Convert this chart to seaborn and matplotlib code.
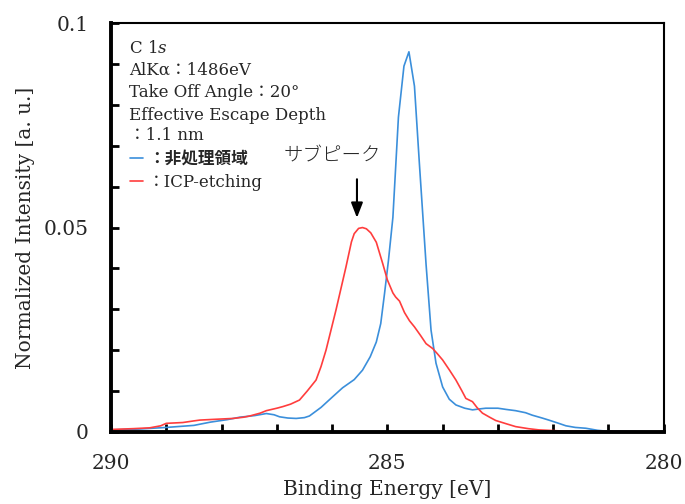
import numpy as np
import pandas as pd
import matplotlib
matplotlib.use("Agg")
import matplotlib.pyplot as plt
import seaborn as sns
from matplotlib.ticker import MultipleLocator, FuncFormatter

# ---------------------------
# Data
# ---------------------------
blue_energy = [290.0, 289.5, 289.0, 288.7, 288.5, 288.2, 287.9, 287.67, 287.4, 287.19,
               287.05, 286.95, 286.8, 286.65, 286.5, 286.41, 286.2, 285.99, 285.81, 285.6,
               285.45, 285.31, 285.2, 285.12, 285.05, 284.98, 284.9, 284.8, 284.7, 284.61,
               284.51, 284.42, 284.3, 284.21, 284.12, 284.0, 283.88, 283.76, 283.6, 283.46,
               283.35, 283.22, 283.0, 282.85, 282.68, 282.5, 282.38, 282.2, 282.08, 281.9,
               281.77, 281.6, 281.41, 281.2, 281.05, 280.5, 280.0]
blue_intensity = [0.0005, 0.0007, 0.0011, 0.0014, 0.0016, 0.0024, 0.0030, 0.0036, 0.0040, 0.0045,
                  0.0042, 0.0037, 0.0034, 0.0033, 0.0035, 0.0039, 0.0060, 0.0086, 0.0108, 0.0128,
                  0.0151, 0.0184, 0.0220, 0.0265, 0.0340, 0.0420, 0.0525, 0.0770, 0.0895, 0.0930,
                  0.0846, 0.0655, 0.0410, 0.0249, 0.0168, 0.0110, 0.0080, 0.0066, 0.0058, 0.0054,
                  0.0056, 0.0058, 0.0058, 0.0055, 0.0052, 0.0047, 0.0041, 0.0034, 0.0029, 0.0021,
                  0.0015, 0.0011, 0.0009, 0.0004, 0.0002, 0.0001, 0.0000]

red_energy = [290.0, 289.6, 289.3, 289.1, 289.0, 288.85, 288.7, 288.5, 288.39, 288.1,
              287.79, 287.6, 287.49, 287.3, 287.19, 287.0, 286.89, 286.75, 286.59, 286.45,
              286.29, 286.2, 286.11, 285.93, 285.75, 285.65, 285.6, 285.52, 285.45, 285.38,
              285.3, 285.2, 285.08, 285.0, 284.9, 284.85, 284.78, 284.69, 284.6, 284.51,
              284.4, 284.3, 284.18, 284.1, 284.0, 283.88, 283.76, 283.65, 283.58, 283.46,
              283.38, 283.28, 283.15, 283.04, 282.85, 282.68, 282.45, 282.26, 281.8, 281.0, 280.0]
red_intensity = [0.0006, 0.0008, 0.0010, 0.0015, 0.0021, 0.0022, 0.0023, 0.0027, 0.0029, 0.0031,
                 0.0033, 0.0036, 0.0039, 0.0046, 0.0052, 0.0058, 0.0062, 0.0068, 0.0078, 0.0100,
                 0.0127, 0.0160, 0.0200, 0.0298, 0.0403, 0.0465, 0.0485, 0.0498, 0.0500, 0.0497,
                 0.0487, 0.0464, 0.0410, 0.0372, 0.0340, 0.0330, 0.0320, 0.0292, 0.0272, 0.0257,
                 0.0236, 0.0216, 0.0204, 0.0192, 0.0176, 0.0152, 0.0127, 0.0100, 0.0082, 0.0074,
                 0.0060, 0.0046, 0.0036, 0.0028, 0.0020, 0.0013, 0.0008, 0.0005, 0.0002, 0.0001, 0.0000]

info_lines = ["C 1$s$", "AlKα：1486eV", "Take Off Angle：20°", "Effective Escape Depth", "：1.1 nm"]
series_labels = ["：非処理領域", "：ICP-etching"]
series_colors = ["#3b8fdb", "#ff3d3d"]
peak_label = "サブピーク"
peak_energy = 285.55

# ---------------------------
# Style
# ---------------------------
sns.set_style("white")
plt.rcParams["font.family"] = ["DejaVu Serif", "Noto Sans CJK JP"]
plt.rcParams["mathtext.fontset"] = "dejavuserif"

df_blue = pd.DataFrame({"energy": blue_energy, "intensity": blue_intensity})
df_red = pd.DataFrame({"energy": red_energy, "intensity": red_intensity})

fig = plt.figure(figsize=(6.85, 5.04), dpi=100)
ax = fig.add_axes([0.162, 0.143, 0.807, 0.811])

sns.lineplot(data=df_blue, x="energy", y="intensity", sort=False, estimator=None,
             color=series_colors[0], linewidth=1.2, label=series_labels[0], ax=ax)
sns.lineplot(data=df_red, x="energy", y="intensity", sort=False, estimator=None,
             color=series_colors[1], linewidth=1.2, label=series_labels[1], ax=ax)

ax.set_xlim(290, 280)
ax.set_ylim(0, 0.1)

ax.xaxis.set_major_locator(MultipleLocator(1))
ax.yaxis.set_major_locator(MultipleLocator(0.01))
ax.xaxis.set_major_formatter(FuncFormatter(lambda v, p: f"{v:.0f}" if round(v) % 5 == 0 else ""))
ax.yaxis.set_major_formatter(FuncFormatter(
    lambda v, p: {0: "0", 5: "0.05", 10: "0.1"}.get(int(round(v * 100)), "")))
ax.tick_params(axis="both", direction="in", length=6, width=2, labelsize=14.5,
               pad=16, color="black", left=True, bottom=True)

for side in ["left", "bottom"]:
    ax.spines[side].set_linewidth(2.8)
for side in ["top", "right"]:
    ax.spines[side].set_linewidth(1.5)
for s in ax.spines.values():
    s.set_color("black")

ax.set_xlabel("Binding Energy [eV]", fontsize=14.5, labelpad=5)
ax.set_ylabel("Normalized Intensity [a. u.]", fontsize=14.5, labelpad=6)

# info text
ys = [0.939, 0.885, 0.831, 0.775, 0.724]
for txt, yy in zip(info_lines, ys):
    ax.text(0.032, yy, txt, transform=ax.transAxes, fontsize=12, va="center", ha="left")

leg = ax.legend(loc="upper left", bbox_to_anchor=(0.022, 0.705), frameon=False,
                fontsize=12, handlelength=0.8, handletextpad=0.3, labelspacing=0.4,
                borderaxespad=0)
leg.get_texts()[0].set_fontweight("bold")

# sub-peak annotation
ax.text(286.0, 0.0676, peak_label, fontsize=14, ha="center", va="center",
        family=["Noto Sans CJK JP", "DejaVu Serif"], fontweight="light")
ax.annotate("", xy=(peak_energy, 0.0517), xytext=(peak_energy, 0.0625),
            arrowprops=dict(arrowstyle="-|>,head_length=0.9,head_width=0.35",
                            color="black", lw=1.5))

fig.savefig("out.png", dpi=100)
